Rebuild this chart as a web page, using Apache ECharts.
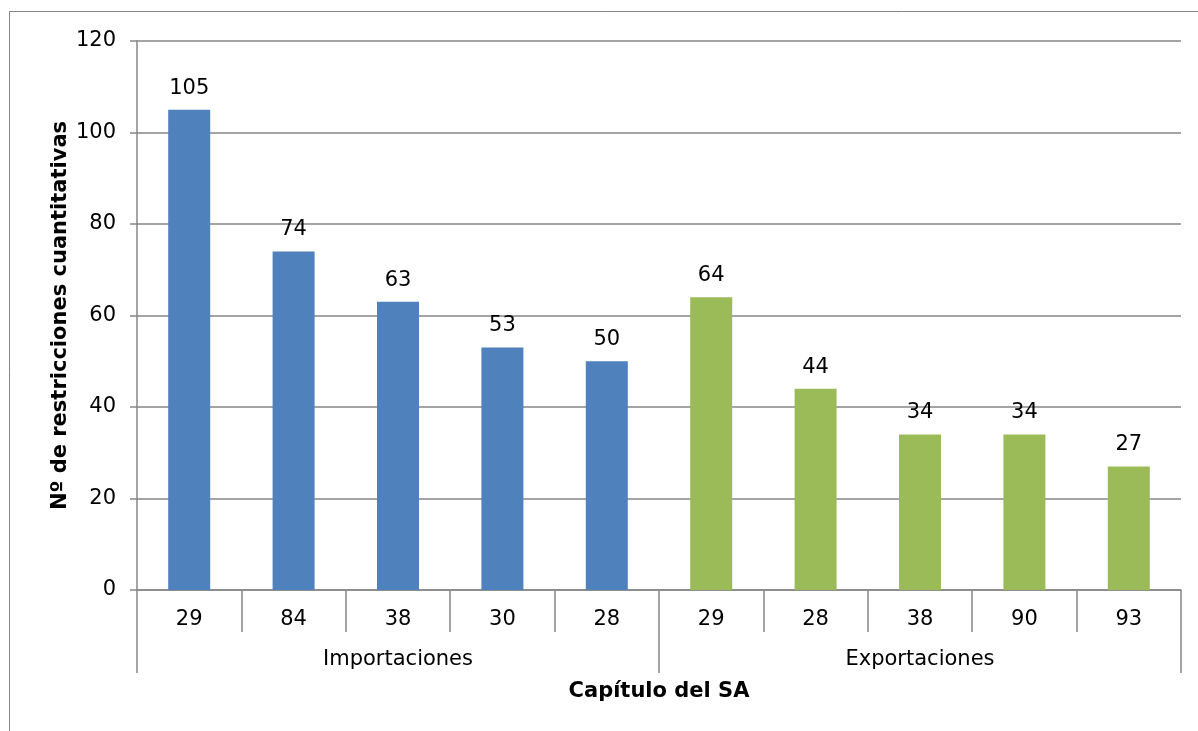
<!DOCTYPE html>
<html>
<head>
<meta charset="utf-8">
<script src="https://cdn.jsdelivr.net/npm/echarts@6/dist/echarts.min.js"></script>
<style>
html,body{margin:0;padding:0;background:#fff;}
#chart{width:1198px;height:731px;}
</style>
</head>
<body>
<div id="chart"></div>
<script>
const codes = ['29','84','38','30','28','29','28','38','90','93'];
const groups = ['Importaciones','Exportaciones'];
const groupOf = [0,0,0,0,0,1,1,1,1,1];
const values = [105,74,63,53,50,64,44,34,34,27];
const yTicks = {min:0, max:120, interval:20};
const groupColors = ['#4F81BD','#9BBB59'];

const FONT = 'DejaVu Sans, Verdana, sans-serif';
const GRAY = '#868686';

const chart = echarts.init(document.getElementById('chart'));
chart.setOption({
  animation:false,
  backgroundColor:'#fff',
  textStyle:{fontFamily:FONT},
  graphic:[{type:'rect', shape:{x:9.5,y:11.5,width:1400,height:1000}, style:{fill:'none',stroke:GRAY,lineWidth:1}, silent:true}],
  grid:{left:137,right:17,top:41,bottom:141,containLabel:false},
  xAxis:[{
    type:'category', data:codes, position:'bottom',
    axisLine:{show:true,lineStyle:{color:GRAY,width:1.5}},
    axisTick:{show:true,length:42,interval:0,lineStyle:{color:GRAY,width:1.5}},
    axisLabel:{interval:0,margin:19,fontSize:21,color:'#000',fontFamily:FONT},
    name:'Capítulo del SA', nameLocation:'middle', nameGap:91, nameMoveOverlap:false,
    nameTextStyle:{fontSize:21,fontWeight:'bold',color:'#000',fontFamily:FONT,verticalAlign:'top'}
  },{
    type:'category', data:groups, position:'bottom',
    axisLine:{show:false},
    axisTick:{show:true,length:83,interval:0,lineStyle:{color:GRAY,width:1.5}},
    axisLabel:{interval:0,margin:59,fontSize:21,color:'#000',fontFamily:FONT},
    splitLine:{show:false}
  }],
  yAxis:{
    type:'value', min:yTicks.min, max:yTicks.max, interval:yTicks.interval,
    axisLine:{show:true,lineStyle:{color:GRAY,width:1.5}},
    axisTick:{show:true,length:7,lineStyle:{color:GRAY,width:1.5}},
    axisLabel:{margin:21,fontSize:21,color:'#000',fontFamily:FONT},
    splitLine:{show:true,lineStyle:{color:GRAY,width:1.5}},
    name:'Nº de restricciones cuantitativas', nameLocation:'middle', nameGap:66, nameRotate:90, nameMoveOverlap:false,
    nameTextStyle:{fontSize:21,fontWeight:'bold',color:'#000',fontFamily:FONT}
  },
  series:[{
    type:'bar', xAxisIndex:0, barWidth:42,
    data: values.map((v,i)=>({value:v,itemStyle:{color:groupColors[groupOf[i]]}})),
    label:{show:true,position:'top',distance:11,fontSize:21,color:'#000',fontFamily:FONT}
  }]
});
</script>
</body>
</html>
